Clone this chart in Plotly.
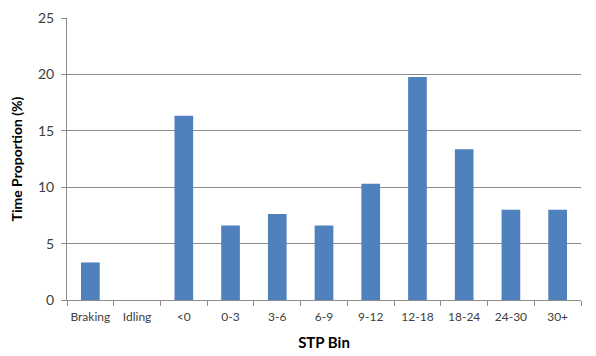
import plotly.graph_objects as go

categories = ["Braking", "Idling", "<0", "0-3", "3-6", "6-9", "9-12", "12-18", "18-24", "24-30", "30+"]
time_proportion = [3.33, 0, 16.33, 6.6, 7.63, 6.6, 10.3, 19.76, 13.37, 8.0, 8.0]
y_ticks = [0, 5, 10, 15, 20, 25]

FONT = "Lato, Open Sans, sans-serif"

fig = go.Figure(go.Bar(
    x=categories,
    y=time_proportion,
    marker=dict(color="#4F81BD", line=dict(width=0)),
))

fig.update_layout(
    width=596, height=356,
    margin=dict(l=67, r=15, t=18, b=56),
    paper_bgcolor="white", plot_bgcolor="white",
    bargap=0.6,
    showlegend=False,
    font=dict(family=FONT, color="#404040"),
)

fig.update_yaxes(
    range=[0, 25], tickvals=y_ticks,
    showgrid=True, gridcolor="#8c8c8c", gridwidth=1,
    showline=True, linecolor="#8c8c8c", linewidth=1,
    ticks="outside", ticklen=5, tickcolor="#8c8c8c",
    tickfont=dict(size=14, color="#404040", family=FONT),
    ticklabelstandoff=4,
    zeroline=False,
    title=dict(text="<b>Time Proportion (%)</b>", font=dict(size=14, color="#000000", family=FONT), standoff=12),
    automargin=False,
)

fig.update_xaxes(
    type="category",
    showgrid=False,
    showline=True, linecolor="#8c8c8c", linewidth=1,
    ticks="outside", ticklen=5, tickcolor="#8c8c8c", tickson="boundaries",
    tickangle=0,
    ticklabelstandoff=6,
    tickfont=dict(size=12, color="#404040", family=FONT),
    title=dict(text="<b>STP Bin</b>", font=dict(size=15, color="#000000", family=FONT), standoff=14),
    automargin=False,
)

fig.write_html("out.html", config={"displayModeBar": False},
               post_script="document.body.style.margin='0px';")
